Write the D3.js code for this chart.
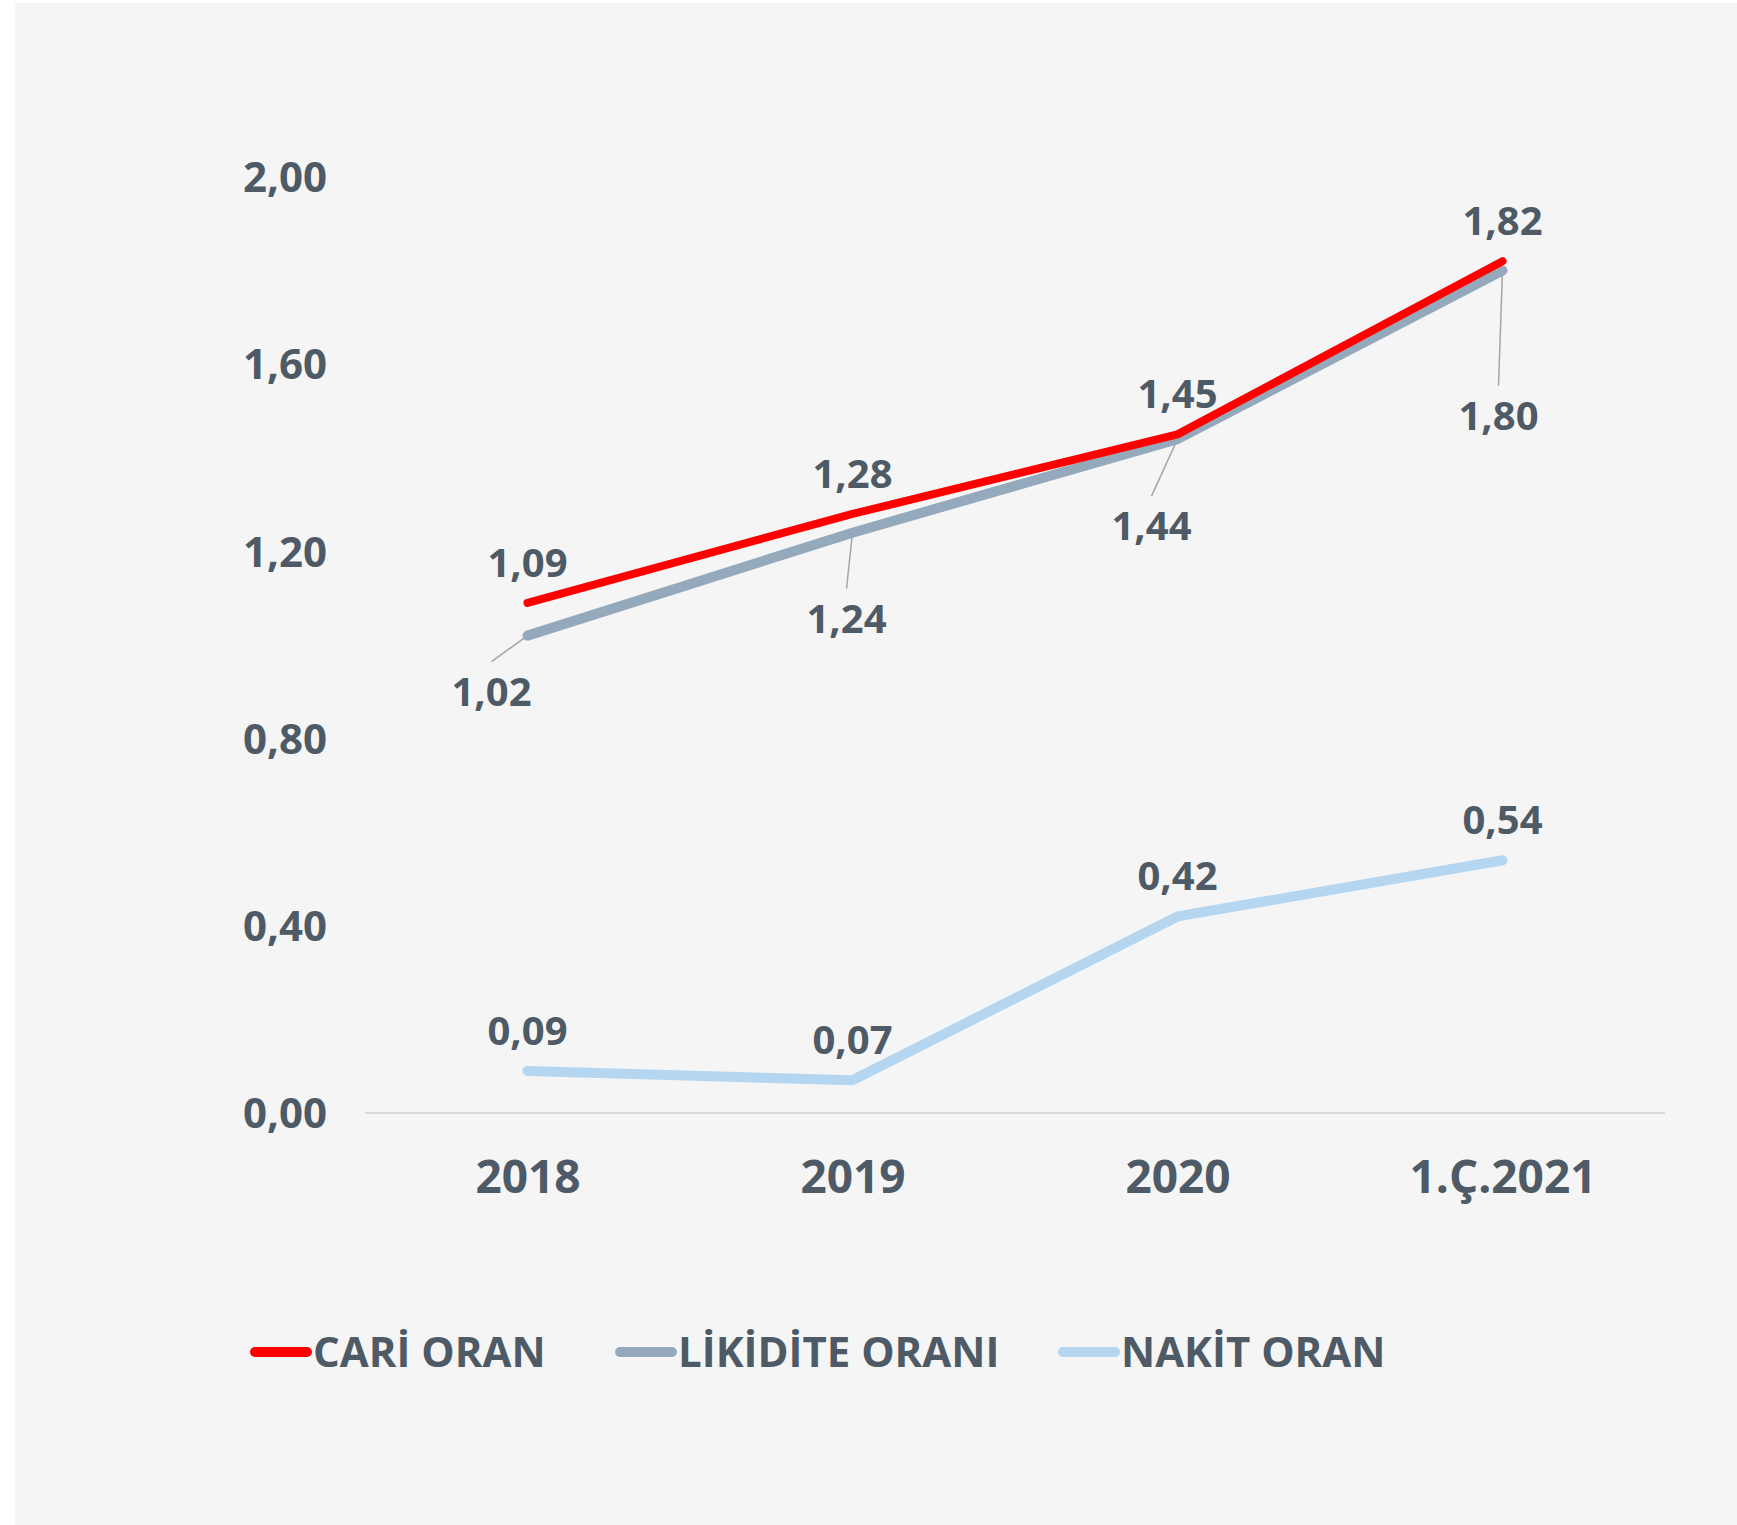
<!DOCTYPE html>
<html><head><meta charset="utf-8">
<script src="https://cdn.jsdelivr.net/npm/d3@7"></script>
<style>html,body{margin:0;padding:0;background:#fff;} svg{display:block;}</style>
</head><body>
<script>
// ---- data ----
const categories = ["2018", "2019", "2020", "1.Ç.2021"];
const cariOran = [1.09, 1.28, 1.45, 1.82];
const likiditeOrani = [1.02, 1.24, 1.44, 1.80];
const nakitOran = [0.09, 0.07, 0.42, 0.54];
const yTicks = [0, 0.4, 0.8, 1.2, 1.6, 2.0];
const seriesNames = ["CARİ ORAN", "LİKİDİTE ORANI", "NAKİT ORAN"];

// ---- layout / style ----
const W = 1737, H = 1525;
const textColor = "#4E5A65";
const colors = ["#FF0000", "#94AABC", "#B4D6F1"];
const widths = [8, 10, 10];
const font = "'Open Sans', 'Noto Sans', sans-serif";
// label offsets for LİKİDİTE (below with leader lines) [dx, dy of label center]
const likLabelOffsets = [[-36, 56], [-6, 86], [-26, 87], [-4, 145]];
const legendStarts = [255, 620, 1063];

const locale = d3.formatLocale({decimal: ",", thousands: ".", grouping: [3], currency: ["", ""]});
const fmt = locale.format(".2f");

const svg = d3.select("body").append("svg").attr("width", W).attr("height", H);
svg.append("rect").attr("x", 15).attr("y", 3).attr("width", W - 15).attr("height", H - 3).attr("fill", "#F5F5F5");

const x = d3.scalePoint().domain(categories).range([365, 1665]).padding(0.5);
const y = d3.scaleLinear().domain([0, 2]).range([1113, 177]);

// y axis labels
const yAxis = d3.axisLeft(y).tickValues(yTicks).tickFormat(fmt).tickSize(0).tickPadding(0);
const gy = svg.append("g").attr("transform", "translate(327,0)").call(yAxis);
gy.select(".domain").remove();
gy.selectAll("text").attr("font-family", font).attr("font-weight", 700).attr("font-size", 42)
  .attr("fill", textColor).attr("dy", "0.35em");

// x axis
const xAxis = d3.axisBottom(x).tickSize(0).tickPadding(0);
const gx = svg.append("g").attr("transform", `translate(0,${y(0)})`).call(xAxis);
gx.select(".domain").attr("stroke", "#D9D9D9").attr("stroke-width", 2)
  .attr("d", `M365,0H1665`);
gx.selectAll("text").attr("font-family", font).attr("font-weight", 700).attr("font-size", 46)
  .attr("fill", textColor).attr("dy", null).attr("y", 80);

const line = d3.line().x((d, i) => x(categories[i])).y(d => y(d));

// leader lines for likidite labels (under lines)
svg.append("g").selectAll("line").data(likiditeOrani).join("line")
  .attr("x1", (d, i) => x(categories[i]))
  .attr("y1", d => y(d))
  .attr("x2", (d, i) => x(categories[i]) + likLabelOffsets[i][0])
  .attr("y2", (d, i) => y(d) + likLabelOffsets[i][1] - 30)
  .attr("stroke", "#A6A6A6").attr("stroke-width", 1.5);

const seriesList = [cariOran, likiditeOrani, nakitOran];
// draw order: nakit, likidite, cari (cari on top)
[2, 1, 0].forEach(k => {
  svg.append("path").datum(seriesList[k]).attr("d", line)
    .attr("fill", "none").attr("stroke", colors[k]).attr("stroke-width", widths[k])
    .attr("stroke-linecap", "round").attr("stroke-linejoin", "round");
});

// data labels
function labels(data, dxy) {
  svg.append("g").selectAll("text").data(data).join("text")
    .attr("x", (d, i) => x(categories[i]) + dxy(i)[0])
    .attr("y", (d, i) => y(d) + dxy(i)[1])
    .attr("dy", "0.35em")
    .attr("text-anchor", "middle")
    .attr("font-family", font).attr("font-weight", 700).attr("font-size", 40)
    .attr("fill", textColor)
    .text(d => fmt(d));
}
labels(cariOran, i => [0, -40]);
labels(nakitOran, i => [0, -40]);
labels(likiditeOrani, i => likLabelOffsets[i]);

// legend
const lg = svg.append("g").selectAll("g").data(seriesNames).join("g")
  .attr("transform", (d, i) => `translate(${legendStarts[i]},1352)`);
lg.append("line").attr("x1", 0).attr("x2", 52).attr("y1", 0).attr("y2", 0)
  .attr("stroke", (d, i) => colors[i]).attr("stroke-width", 10).attr("stroke-linecap", "round");
lg.append("text").attr("x", 58).attr("y", 0).attr("dy", "0.36em")
  .attr("font-family", font).attr("font-weight", 700).attr("font-size", 42)
  .attr("fill", textColor).text(d => d);
</script>
</body></html>
